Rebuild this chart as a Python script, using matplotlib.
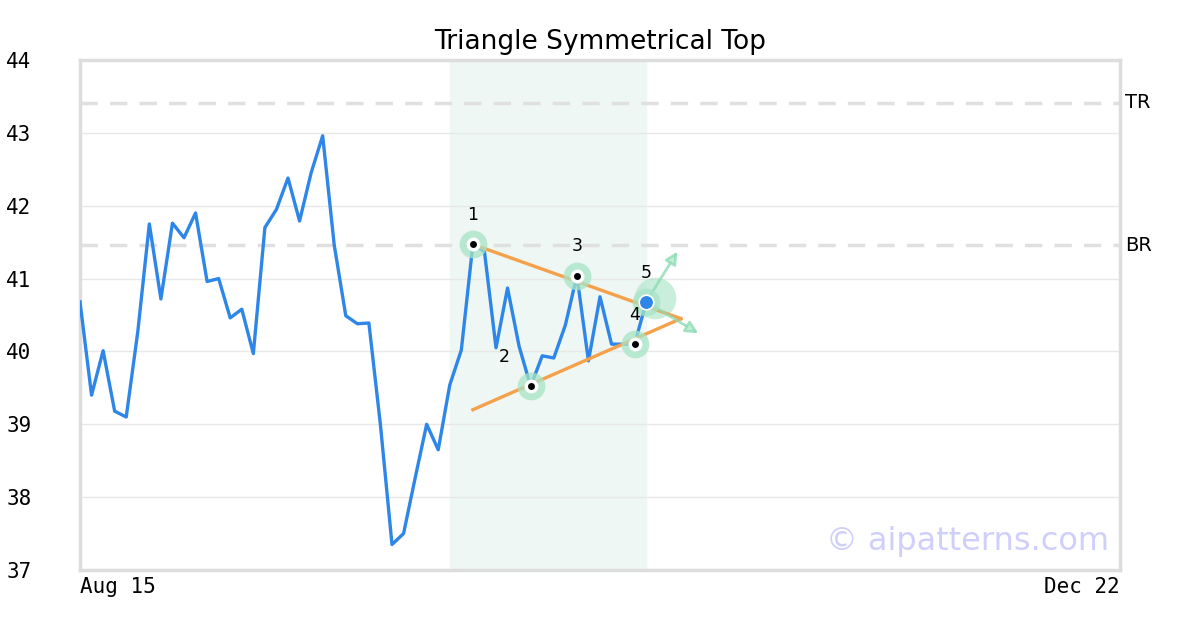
import matplotlib
matplotlib.use("Agg")
import matplotlib.pyplot as plt
import matplotlib.transforms as mtransforms

# price series (one value per trading day, Aug 15 -> ...)
prices = [40.68, 39.40, 40.01, 39.18, 39.10, 40.27, 41.75, 40.72, 41.76, 41.56,
          41.90, 40.96, 41.00, 40.46, 40.58, 39.97, 41.70, 41.95, 42.38, 41.79,
          42.45, 42.96, 41.46, 40.49, 40.38, 40.39, 38.99, 37.35, 37.50, 38.26,
          39.00, 38.65, 39.54, 40.02, 41.47, 41.37, 40.05, 40.87, 40.07, 39.52,
          39.94, 39.91, 40.36, 41.04, 39.87, 40.75, 40.10, 40.10, 40.10, 40.68]
days = list(range(len(prices)))

pivot_idx = [34, 39, 43, 48, 49]
pivot_labels = ["1", "2", "3", "4", "5"]

pattern_start, pattern_end = 32, 49
x_end = 90

upper_line_x = [34, 52]
upper_line_y = [41.47, 40.45]
lower_line_x = [34, 52]
lower_line_y = [39.20, 40.45]

top_resist = 43.41
bottom_resist = 41.46

arrow_up = (2.7, 0.69)
arrow_down = (4.5, -0.43)

xtick_pos = [0, 90]
xtick_labels = ["Aug 15", "Dec 22"]
yticks = [37, 38, 39, 40, 41, 42, 43, 44]

blue = "#2e86e8"
orange = "#f5a04a"
green = "#a8e4c6"

fig = plt.figure(figsize=(12, 6.3), dpi=100)
ax = fig.add_axes([80 / 1200, 60 / 630, 1040 / 1200, 510 / 630])

ax.set_xlim(0, x_end)
ax.set_ylim(37, 44)

ax.axvspan(pattern_start, pattern_end, color="#eef7f3", zorder=0)
for y in yticks:
    ax.axhline(y, color="#e8e8e8", lw=1, zorder=1)

for y, lab in [(top_resist, "TR"), (bottom_resist, "BR")]:
    ax.axhline(y, color="#e0e0e0", lw=2.5, dashes=(5, 3.5), zorder=1)
    ax.text(x_end + 0.45, y, lab, fontsize=14, va="center", ha="left", clip_on=False)

ax.plot(days, prices, color=blue, lw=2.4, zorder=3)
ax.plot(upper_line_x, upper_line_y, color=orange, lw=2.4, zorder=4)
ax.plot(lower_line_x, lower_line_y, color=orange, lw=2.4, zorder=4)

px = [days[i] for i in pivot_idx]
py = [prices[i] for i in pivot_idx]

# big translucent halo next to the breakout point
halo = mtransforms.offset_copy(ax.transData, fig=fig, x=6, y=3, units="points")
ax.scatter(px[-1:], py[-1:], s=900, color=green, alpha=0.6, lw=0, zorder=2, transform=halo)

ax.scatter(px, py, s=400, color=green, alpha=0.75, lw=0, zorder=5)
ax.scatter(px[:-1], py[:-1], s=100, color="white", lw=0, zorder=6)
ax.scatter(px[:-1], py[:-1], s=25, color="black", lw=0, zorder=7)
ax.scatter(px[-1:], py[-1:], s=110, color=blue, edgecolor="white", lw=1.2, zorder=7)

offsets = [(0, 21), (-19, 21), (0, 21), (0, 21), (0, 21)]
for x, y, lab, off in zip(px, py, pivot_labels, offsets):
    ax.annotate(lab, (x, y), xytext=off, textcoords="offset points",
                ha="center", va="center", fontsize=12.5, zorder=8)

for dx, dy in [arrow_up, arrow_down]:
    ax.annotate("", xy=(px[-1] + dx, py[-1] + dy), xytext=(px[-1], py[-1]),
                arrowprops=dict(arrowstyle="-|>", facecolor="#c9efdb", edgecolor="#8fdcb5",
                                alpha=0.8, lw=2, mutation_scale=18, shrinkA=0, shrinkB=0),
                zorder=4)

ax.set_title("Triangle Symmetrical Top", fontsize=19, pad=8)

ax.set_yticks(yticks)
ax.set_yticklabels([str(v) for v in yticks], family="DejaVu Sans Mono", fontsize=15)
ax.set_xticks(xtick_pos)
xl = ax.set_xticklabels(xtick_labels, family="DejaVu Sans Mono", fontsize=15)
xl[0].set_ha("left")
xl[1].set_ha("right")
ax.tick_params(axis="y", length=0, pad=35)
ax.tick_params(axis="x", length=0, pad=5)

for sp in ax.spines.values():
    sp.set_color("#dddddd")
    sp.set_linewidth(2.5)

ax.text(0.99, 0.055, "\u00a9 aipatterns.com", transform=ax.transAxes, ha="right",
        va="center", fontsize=23, color="#cfcffc", zorder=9)

fig.savefig("out.png", dpi=100)
